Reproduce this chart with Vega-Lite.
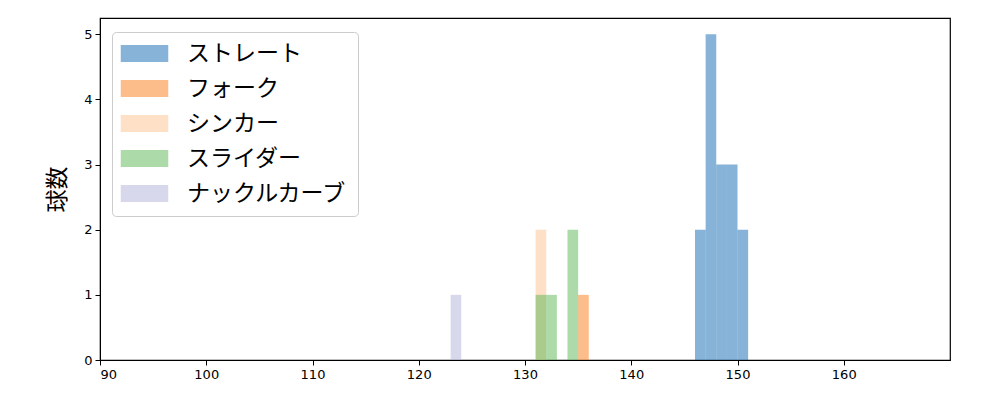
{
  "$schema": "https://vega.github.io/schema/vega-lite/v6.json",
  "autosize": "none",
  "width": 850,
  "height": 342,
  "padding": {"left": 100, "top": 18, "right": 50, "bottom": 40},
  "background": "white",
  "config": {
    "view": {"stroke": "black", "strokeWidth": 1.2},
    "axis": {
      "grid": false,
      "domainColor": "black",
      "tickColor": "black",
      "tickSize": 5,
      "labelFont": "DejaVu Sans",
      "labelFontSize": 13,
      "labelColor": "black",
      "titleFont": "Noto Sans CJK JP",
      "titleFontSize": 23,
      "titleFontWeight": "normal",
      "titleColor": "black"
    }
  },
  "data": {
    "values": [
      {"pitch": "ストレート", "lo": 146, "hi": 147, "count": 2},
      {"pitch": "ストレート", "lo": 147, "hi": 148, "count": 5},
      {"pitch": "ストレート", "lo": 148, "hi": 149, "count": 3},
      {"pitch": "ストレート", "lo": 149, "hi": 150, "count": 3},
      {"pitch": "ストレート", "lo": 150, "hi": 151, "count": 2},
      {"pitch": "フォーク", "lo": 135, "hi": 136, "count": 1},
      {"pitch": "シンカー", "lo": 131, "hi": 132, "count": 2},
      {"pitch": "スライダー", "lo": 131, "hi": 132, "count": 1},
      {"pitch": "スライダー", "lo": 132, "hi": 133, "count": 1},
      {"pitch": "スライダー", "lo": 134, "hi": 135, "count": 2},
      {"pitch": "ナックルカーブ", "lo": 123, "hi": 124, "count": 1}
    ]
  },
  "mark": {"type": "rect", "opacity": 0.5},
  "encoding": {
    "x": {
      "field": "lo", "type": "quantitative",
      "scale": {"domain": [90, 170], "nice": false, "zero": false},
      "axis": {"values": [90, 100, 110, 120, 130, 140, 150, 160], "title": null, "labelPadding": 3}
    },
    "x2": {"field": "hi"},
    "y": {
      "field": "count", "type": "quantitative",
      "scale": {"domain": [0, 5.25], "nice": false},
      "axis": {"values": [0, 1, 2, 3, 4, 5], "title": "球数", "titlePadding": 14, "labelPadding": 3}
    },
    "y2": {"datum": 0},
    "color": {
      "field": "pitch", "type": "nominal",
      "scale": {
        "domain": ["ストレート", "フォーク", "シンカー", "スライダー", "ナックルカーブ"],
        "range": ["#0d67af", "#fb7b15", "#fbc18d", "#59b553", "#b1b1d9"]
      },
      "legend": {
        "title": null,
        "orient": "none",
        "legendX": 12,
        "legendY": 14,
        "padding": 10,
        "fillColor": "white",
        "strokeColor": "#cccccc",
        "cornerRadius": 4,
        "symbolType": "M-2.5,-0.9H2.5V0.9H-2.5Z",
        "symbolSize": 361,
        "symbolOffset": 11,
        "symbolOpacity": 0.5,
        "symbolStrokeWidth": 0,
        "labelOffset": 31,
        "labelFont": "Noto Sans CJK JP",
        "labelFontSize": 23,
        "labelColor": "black",
        "rowPadding": 11,
        "labelLimit": 300
      }
    }
  }
}
